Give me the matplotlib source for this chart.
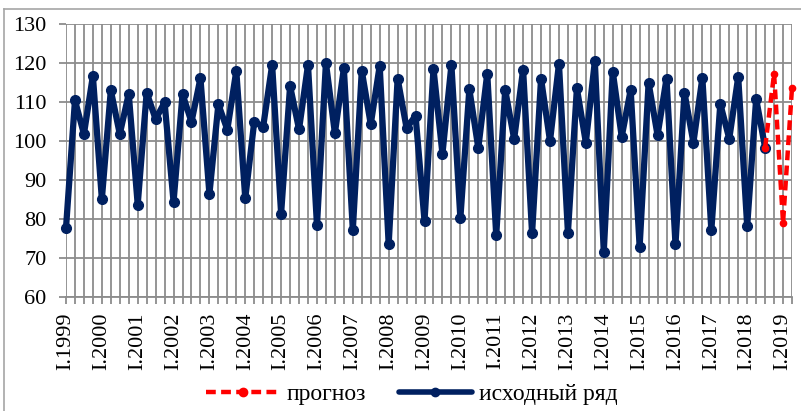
import numpy as np
import matplotlib.pyplot as plt
from matplotlib.lines import Line2D

plt.rcParams['font.family'] = ['Liberation Serif', 'DejaVu Serif']

# quarterly series, I.1999 .. III.2018
actual = [77.7, 110.4, 101.8, 116.7, 85.1, 113.0, 101.8, 112.1,
          83.7, 112.4, 105.6, 109.9, 84.4, 112.0, 104.9, 116.1,
          86.4, 109.4, 102.9, 118.0, 85.3, 104.9, 103.7, 119.5,
          81.4, 114.1, 103.0, 119.5, 78.4, 120.0, 102.0, 118.6,
          77.2, 118.0, 104.3, 119.3, 73.5, 116.0, 103.3, 106.5,
          79.5, 118.5, 96.7, 119.5, 80.2, 113.3, 98.2, 117.3,
          75.8, 113.1, 100.5, 118.3, 76.3, 116.0, 100.0, 119.8,
          76.5, 113.5, 99.6, 120.4, 71.6, 117.8, 101.1, 113.1,
          72.9, 114.9, 101.5, 116.0, 73.5, 112.4, 99.6, 116.2,
          77.1, 109.5, 100.6, 116.4, 78.2, 110.8, 98.3]
# forecast continues from the last observed quarter
forecast = [98.3, 117.3, 79.0, 113.6]

years = list(range(1999, 2020))
n_total = len(actual) + len(forecast) - 1

x_act = np.arange(len(actual))
x_fc = np.arange(len(actual) - 1, n_total)

fig = plt.figure(figsize=(8.01, 4.11), dpi=100)
ax = fig.add_axes([66 / 801, 1 - 297 / 411, (792 - 66) / 801, (297 - 24) / 411])

grid_c = '#8c8c8c'
blue = '#002060'
red = '#ff0000'
ax.plot(x_act, actual, color=blue, lw=4.5, marker='o', ms=7,
        solid_joinstyle='round', solid_capstyle='round', zorder=3, clip_on=False)
ax.plot(x_fc, forecast, color=red, lw=3.2, ls=(0, (2.2, 1.2)),
        dash_joinstyle='round', marker='o', ms=4.5, zorder=4, clip_on=False)

ax.set_xlim(0, n_total - 1)
ax.set_ylim(60, 130)
ax.set_yticks(range(60, 131, 10))

ax.set_xticks(range(n_total))
labels = []
for i in range(n_total):
    labels.append('I.%d' % years[i // 4] if i % 4 == 0 else '')
ax.set_xticklabels(labels, rotation=90)

ax.grid(True, color=grid_c, lw=1.3)
ax.set_axisbelow(True)
for side in ['top', 'right', 'left']:
    ax.spines[side].set_visible(False)
ax.spines['bottom'].set_color(grid_c)
ax.spines['bottom'].set_linewidth(1.3)
ax.tick_params(axis='x', length=5, width=1.3, color=grid_c, pad=6, labelsize=16)
ax.tick_params(axis='y', length=5, width=1.3, color=grid_c, pad=9, labelsize=16)

# legend: forecast first, then actual
handles = [
    Line2D([], [], color=red, lw=3.2, ls=(0, (2.2, 1.2)), marker='o', ms=6),
    Line2D([], [], color=blue, lw=4, marker='o', ms=6, solid_capstyle='round'),
]
fig.legend(handles, ['прогноз', 'исходный ряд'], loc='center',
           bbox_to_anchor=(412 / 801, 1 - 394 / 411), ncol=2, frameon=False,
           fontsize=17, handlelength=3.1, handletextpad=0.3, columnspacing=1.4)

# chart area border (only left/top visible in the crop)
fig.add_artist(Line2D([4 / 801, 4 / 801], [0, 1 - 9 / 411], color='#a6a6a6', lw=1.2))
fig.add_artist(Line2D([4 / 801, 1], [1 - 9 / 411, 1 - 9 / 411], color='#a6a6a6', lw=1.2))

fig.savefig('out.png', dpi=100)
